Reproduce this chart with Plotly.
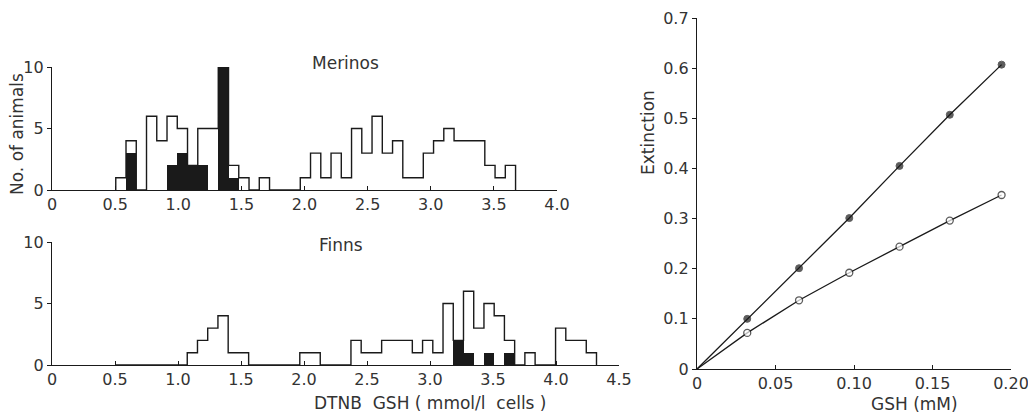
import plotly.graph_objects as go

# ---------------- data ----------------
bin_start = 0.505
bin_width = 0.0812

merinos_total = [1, 4, 0, 6, 4, 6, 5, 2, 5, 5, 10, 2, 1, 0, 1, 0, 0, 0,
                 1, 3, 1, 3, 1, 5, 3, 6, 3, 4, 1, 1, 3, 4, 5, 4, 4, 4, 2, 1, 2]
merinos_black = [0, 3, 0, 0, 0, 2, 3, 2, 2, 0, 10, 1, 0, 0, 0, 0, 0, 0,
                 0, 0, 0, 0, 0, 0, 0, 0, 0, 0, 0, 0, 0, 0, 0, 0, 0, 0, 0, 0, 0]

finns_total = [0, 0, 0, 0, 0, 0, 0, 1, 2, 3, 4, 1, 1, 0, 0, 0, 0, 0,
               1, 1, 0, 0, 0, 2, 1, 1, 2, 2, 2, 1, 2, 1, 5, 2, 6, 3, 5, 4, 2, 0,
               1, 0, 0, 3, 2, 2, 1]
finns_black = [0] * 33 + [2, 1, 0, 1, 0, 1] + [0] * 8

gsh_mM = [0, 0.032, 0.065, 0.097, 0.129, 0.161, 0.194]
ext_filled = [0, 0.100, 0.201, 0.301, 0.405, 0.507, 0.607]
ext_open = [0, 0.072, 0.137, 0.192, 0.244, 0.296, 0.347]

merinos_ticks = [0, 0.5, 1.0, 1.5, 2.0, 2.5, 3.0, 3.5, 4.0]
merinos_ticklabels = ["0", "0.5", "1.0", "1.5", "2.0", "2.5", "3.0", "3.5", "4.0"]
finns_ticks = [0, 0.5, 1.0, 1.5, 2.0, 2.5, 3.0, 3.5, 4.0, 4.5]
finns_ticklabels = ["0", "0.5", "1.0", "1.5", "2.0", "2.5", "3.0", "3.5", "4.0", "4.5"]
count_ticks = [0, 5, 10]
gsh_ticks = [0, 0.05, 0.10, 0.15, 0.20]
gsh_ticklabels = ["0", "0.05", "0.10", "0.15", "0.20"]
ext_ticks = [0, 0.1, 0.2, 0.3, 0.4, 0.5, 0.6, 0.7]
ext_ticklabels = ["0", "0.1", "0.2", "0.3", "0.4", "0.5", "0.6", "0.7"]

# ---------------- figure ----------------
W, H = 1036, 415
OFF = 8  # page body margin: figure origin sits 8 px in from the window corner
INK = "#1a1a1a"
TXT = "#333333"
FONT = "DejaVu Sans"


def fx(p):
    return (p - OFF) / W


def fy(p):
    return 1 - (p - OFF) / H


def px_x(a, b):
    return [fx(a), fx(b)]


def px_y(top, bottom):
    return [fy(bottom), fy(top)]


def step_xy(counts):
    edges = [bin_start + i * bin_width for i in range(len(counts) + 1)]
    xs = [edges[0]] + edges[:len(counts)] + [edges[len(counts)]]
    ys = [0] + list(counts) + [0]
    return xs, ys


def bar_xy(counts):
    xs, ys = [], []
    for i, c in enumerate(counts):
        if c > 0:
            xs.append(bin_start + (i + 0.5) * bin_width)
            ys.append(c)
    return xs, ys


fig = go.Figure()

for total, black, xa, ya in [(merinos_total, merinos_black, "x", "y"),
                             (finns_total, finns_black, "x2", "y2")]:
    bx, by = bar_xy(black)
    fig.add_trace(go.Bar(x=bx, y=by, width=bin_width * 1.02, xaxis=xa, yaxis=ya,
                         marker=dict(color=INK, line=dict(width=0)),
                         showlegend=False))
    sx, sy = step_xy(total)
    fig.add_trace(go.Scatter(x=sx, y=sy, mode="lines", xaxis=xa, yaxis=ya,
                             line=dict(color=INK, width=1.4, shape="hv"),
                             showlegend=False))

fig.add_trace(go.Scatter(x=gsh_mM, y=ext_filled, mode="lines+markers",
                         xaxis="x3", yaxis="y3", showlegend=False,
                         line=dict(color=INK, width=1.3),
                         marker=dict(size=[0] + [7] * 6, color=INK,
                                     line=dict(color=INK, width=1))))
fig.add_trace(go.Scatter(x=gsh_mM, y=ext_open, mode="lines+markers",
                         xaxis="x3", yaxis="y3", showlegend=False,
                         line=dict(color=INK, width=1.3),
                         marker=dict(size=[0] + [7] * 6, color="white",
                                     line=dict(color=INK, width=1.3))))

tickfont = dict(family=FONT, size=16, color=TXT)
common_x = dict(showline=True, linecolor=INK, linewidth=1.4, ticks="inside",
                ticklen=4, tickwidth=1.2, tickcolor=INK, showgrid=False,
                zeroline=False, tickfont=tickfont, automargin=False,
                ticklabeloverflow="allow")
common_y = dict(showline=True, linecolor=INK, linewidth=1.4, ticks="outside",
                ticklen=4, tickwidth=1.2, tickcolor=INK, showgrid=False,
                zeroline=False, tickfont=tickfont, automargin=False,
                ticklabeloverflow="allow")

fig.update_layout(
    width=W, height=H,
    margin=dict(l=0, r=0, t=0, b=0, pad=0, autoexpand=False),
    paper_bgcolor="white", plot_bgcolor="rgba(0,0,0,0)",
    barmode="overlay", bargap=0,
    xaxis=dict(common_x, domain=px_x(52, 557), range=[0, 4.0], anchor="y",
               tickvals=merinos_ticks, ticktext=merinos_ticklabels),
    yaxis=dict(common_y, domain=px_y(67, 190), range=[0, 10], anchor="x",
               tickvals=count_ticks),
    xaxis2=dict(common_x, domain=px_x(52, 619), range=[0, 4.5], anchor="y2",
                tickvals=finns_ticks, ticktext=finns_ticklabels),
    yaxis2=dict(common_y, domain=px_y(242, 365), range=[0, 10], anchor="x2",
                tickvals=count_ticks),
    xaxis3=dict(common_x, domain=px_x(697, 1011), range=[0, 0.2], anchor="y3",
                tickvals=gsh_ticks, ticktext=gsh_ticklabels),
    yaxis3=dict(common_y, domain=px_y(18, 369), range=[0, 0.7], anchor="x3",
                tickvals=ext_ticks, ticktext=ext_ticklabels),
    font=dict(family=FONT, color=TXT),
)

labfont = dict(family=FONT, size=17, color=TXT)
annots = [
    ("Merinos", 345, 63, 0),
    ("Finns", 341, 245, 0),
    ("No. of animals", 17, 134, -90),
    ("DTNB&nbsp; GSH ( mmol/l&nbsp; cells )", 430, 403, 0),
    ("Extinction", 648, 133, -90),
    ("GSH (mM)", 914, 404, 0),
]
for text, x, y, ang in annots:
    fig.add_annotation(text=text, x=fx(x), y=fy(y), xref="paper",
                       yref="paper", showarrow=False, textangle=ang,
                       font=labfont, xanchor="center", yanchor="middle")

fig.write_html("out.html")
